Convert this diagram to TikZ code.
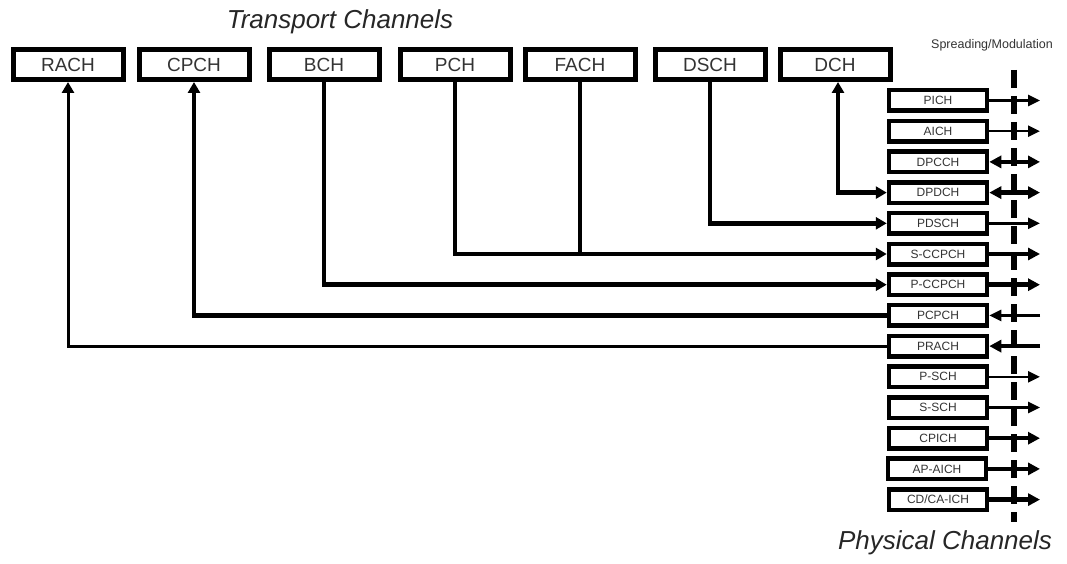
\documentclass[tikz,border=0pt]{standalone}
\usepackage{fontspec}
\setmainfont{Liberation Sans}
\usetikzlibrary{arrows.meta}
\begin{document}
\begin{tikzpicture}[x=1pt, y=-1pt,
  trch/.style={rectangle, draw, line width=5pt, minimum width=110pt, minimum height=30pt,
               inner sep=0pt, text=black!80, font=\fontsize{19}{19}\selectfont},
  phch/.style={rectangle, draw, line width=4.5pt, minimum width=98pt, minimum height=20.5pt,
               inner sep=0pt, text=black!80, font=\fontsize{12}{12}\selectfont},
  conn/.style={line width=4.5pt, -{Triangle[length=11pt, width=12pt]}},
  link/.style={line width=4.5pt},
  outt/.style={line width=2.5pt, -{Triangle[length=12pt, width=11pt]}},
  outb/.style={line width=4.5pt, -{Triangle[length=12pt, width=12pt]}},
  both/.style={line width=4.5pt, {Triangle[length=12pt, width=12pt]}-{Triangle[length=12pt, width=12pt]}},
  title/.style={font=\itshape\fontsize{26}{26}\selectfont, text=black!85}
]
\useasboundingbox (0,0) rectangle (1067,564);

% Titles
\node[title] (tc) at (340,22) {Transport Channels};
\node[title] (pc) at (945,543) {Physical Channels};
\node[font=\fontsize{12.5}{12.5}\selectfont, text=black!80] (sm) at (992,45) {Spreading/Modulation};

% Transport channels (top row)
\node[trch] (rach) at (68,64.5)  {RACH};
\node[trch] (cpch) at (194,64.5) {CPCH};
\node[trch] (bch)  at (324,64.5) {BCH};
\node[trch] (pch)  at (455,64.5) {PCH};
\node[trch] (fach) at (580,64.5) {FACH};
\node[trch] (dsch) at (710,64.5) {DSCH};
\node[trch] (dch)  at (835,64.5) {DCH};

% Physical channels (right column)
\node[phch] (pich)    at (938,100.5) {PICH};
\node[phch] (aich)    at (938,131.2) {AICH};
\node[phch] (dpcch)   at (938,161.9) {DPCCH};
\node[phch] (dpdch)   at (938,192.6) {DPDCH};
\node[phch] (pdsch)   at (938,223.3) {PDSCH};
\node[phch] (sccpch)  at (938,254.0) {S-CCPCH};
\node[phch] (pccpch)  at (938,284.7) {P-CCPCH};
\node[phch] (pcpch)   at (938,315.4) {PCPCH};
\node[phch] (prach)   at (938,346.1) {PRACH};
\node[phch] (psch)    at (938,376.8) {P-SCH};
\node[phch] (ssch)    at (938,407.5) {S-SCH};
\node[phch] (cpich)   at (938,438.2) {CPICH};
\node[phch] (apaich)  at (937,468.9) {AP-AICH};
\node[phch] (cdcaich) at (938,499.6) {CD/CA-ICH};

% Spreading/modulation boundary
\coordinate (smtop) at (1014,70);
\coordinate (smbot) at (1014,522);
\draw[line width=6pt, dash pattern=on 18pt off 8pt] (smtop) -- (smbot);

% Free ends right of the boundary
\coordinate (pich-o)    at (1040,100.5);
\coordinate (aich-o)    at (1040,131.2);
\coordinate (dpcch-o)   at (1040,161.9);
\coordinate (dpdch-o)   at (1040,192.6);
\coordinate (pdsch-o)   at (1040,223.3);
\coordinate (sccpch-o)  at (1040,254.0);
\coordinate (pccpch-o)  at (1040,284.7);
\coordinate (pcpch-o)   at (1040,315.4);
\coordinate (prach-o)   at (1040,346.1);
\coordinate (psch-o)    at (1040,376.8);
\coordinate (ssch-o)    at (1040,407.5);
\coordinate (cpich-o)   at (1040,438.2);
\coordinate (apaich-o)  at (1040,468.9);
\coordinate (cdcaich-o) at (1040,499.6);

% Physical channel -> air
\draw[outt] (pich) -- (pich-o);
\draw[outt] (aich) -- (aich-o);
\draw[both] (dpcch) -- (dpcch-o);
\draw[both] (dpdch) -- (dpdch-o);
\draw[outt] (pdsch) -- (pdsch-o);
\draw[outb] (sccpch) -- (sccpch-o);
\draw[outb] (pccpch) -- (pccpch-o);
\draw[outt] (pcpch-o) -- (pcpch);
\draw[outb] (prach-o) -- (prach);
\draw[outt] (psch) -- (psch-o);
\draw[outt] (ssch) -- (ssch-o);
\draw[outb] (cpich) -- (cpich-o);
\draw[outb] (apaich) -- (apaich-o);
\draw[outb] (cdcaich) -- (cdcaich-o);

% Transport -> physical mapping
\draw[conn, {Triangle[length=11pt, width=12pt]}-{Triangle[length=11pt, width=12pt]}]
  ([xshift=3pt]dch.south) |- (dpdch.west);
\draw[conn] (dsch.south) |- (pdsch.west);
\draw[conn] (pch.south) |- (sccpch.west);
\draw[link] (fach.south) -- (fach.south |- sccpch.west);
\draw[conn] (bch.south) |- (pccpch.west);
\draw[conn] (pcpch.west) -| (cpch.south);
\draw[conn, line width=3pt] (prach.west) -| (rach.south);
\end{tikzpicture}
\end{document}
